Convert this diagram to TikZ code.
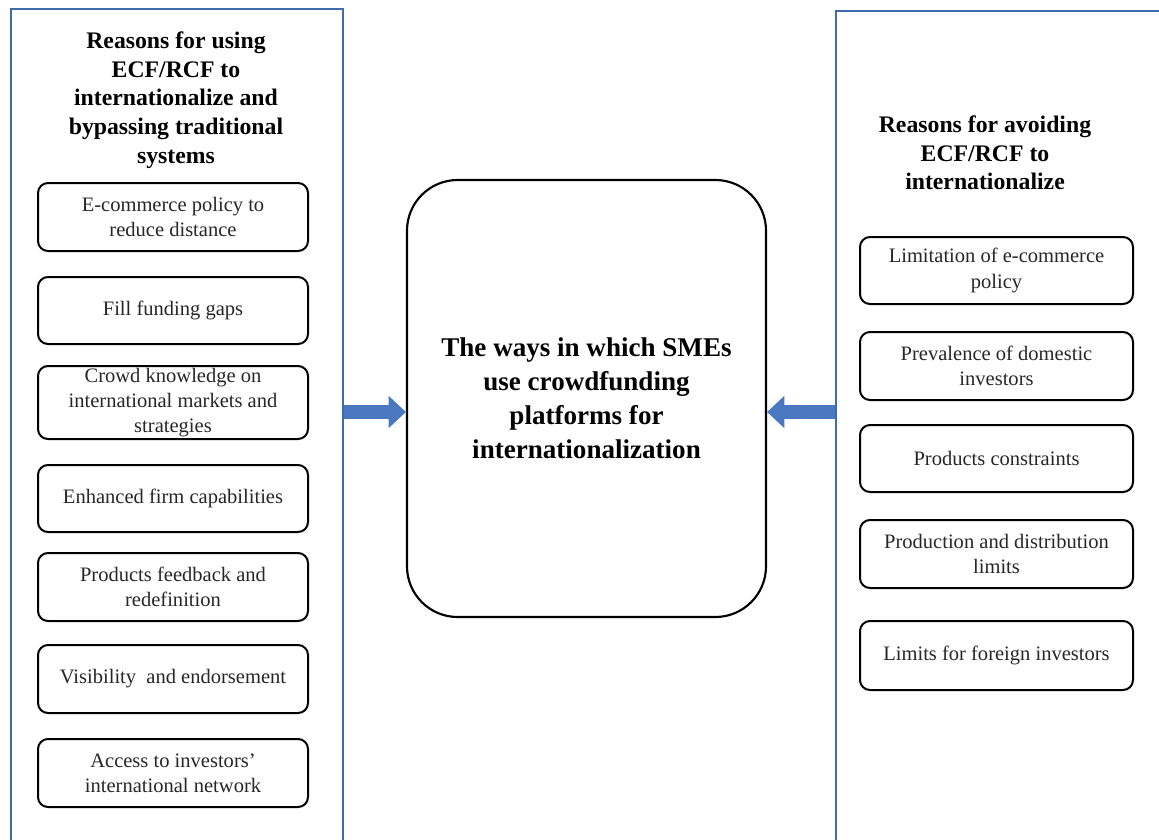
\documentclass[tikz,border=0pt]{standalone}
\usepackage{fontspec}
\setmainfont{Liberation Serif}
\usetikzlibrary{arrows.meta}
\definecolor{frameblue}{HTML}{3F6CA8}
\definecolor{arrowblue}{HTML}{4A78C0}
\begin{document}
\begin{tikzpicture}[x=0.75pt,y=-0.75pt,
  outerbox/.style={draw=frameblue,line width=1.8pt},
  itembox/.style={draw=black,line width=1.5pt,rounded corners=7.5pt,align=center,
    font=\fontsize{15.4}{19}\selectfont,text=black!85,inner sep=0pt},
  titletext/.style={align=center,font=\bfseries\fontsize{17.8}{21.5}\selectfont},
  centerbox/.style={draw=black,line width=1.6pt,rounded corners=38pt,align=center,
    font=\bfseries\fontsize{20.3}{25.5}\selectfont,inner sep=0pt},
  blockarrow/.style={draw=arrowblue,line width=11pt,-{Triangle[length=13pt,width=23.5pt]}}
]
\useasboundingbox (0,0) rectangle (1159,839);
\begin{scope}
\clip (0,0) rectangle (1159,839);
% outer frames
\node[outerbox,minimum width=332*0.75pt,minimum height=845*0.75pt,anchor=north west,inner sep=0pt] (L) at (10,8) {};
\node[outerbox,minimum width=340*0.75pt,minimum height=845*0.75pt,anchor=north west,inner sep=0pt] (R) at (835,10) {};
\end{scope}
% titles
\node[titletext] (Lt) at (176,100) {Reasons for using\\ECF/RCF to\\internationalize and\\bypassing traditional\\systems};
\node[titletext] (Rt) at (985,153) {Reasons for avoiding\\ECF/RCF to\\internationalize};
% left items
\foreach \n/\ya/\yb/\t in {
  l1/183/251/{E-commerce policy to\\reduce distance},
  l2/277/344/{Fill funding gaps},
  l3/366/439/{Crowd knowledge on\\international markets and\\strategies},
  l4/465/532/{Enhanced firm capabilities},
  l5/553/621/{Products feedback and\\redefinition},
  l6/645/713/{Visibility\ \ and endorsement},
  l7/739/807/{Access to investors'\\international network}}{
  \node[itembox,minimum width=270*0.75pt,minimum height={(\yb-\ya)*0.75pt}] (\n) at (173,{(\ya+\yb)/2}) {\t};
}
% right items
\foreach \n/\ya/\yb/\t in {
  r1/237/304/{Limitation of e-commerce\\policy},
  r2/332/400/{Prevalence of domestic\\investors},
  r3/425/492/{Products constraints},
  r4/520/588/{Production and distribution\\limits},
  r5/621/690/{Limits for foreign investors}}{
  \node[itembox,minimum width=273*0.75pt,minimum height={(\yb-\ya)*0.75pt}] (\n) at (996.5,{(\ya+\yb)/2}) {\t};
}
% center
\node[centerbox,minimum width=359*0.75pt,minimum height=437*0.75pt] (C) at (586.5,398.5) {The ways in which SMEs\\use crowdfunding\\platforms for\\internationalization};
% arrows
\coordinate (la) at (L.east |- 0,412);
\coordinate (ra) at (R.west |- 0,412);
\draw[blockarrow] (la) -- (C.west |- la);
\draw[blockarrow] (ra) -- (C.east |- ra);
\end{tikzpicture}
\end{document}
